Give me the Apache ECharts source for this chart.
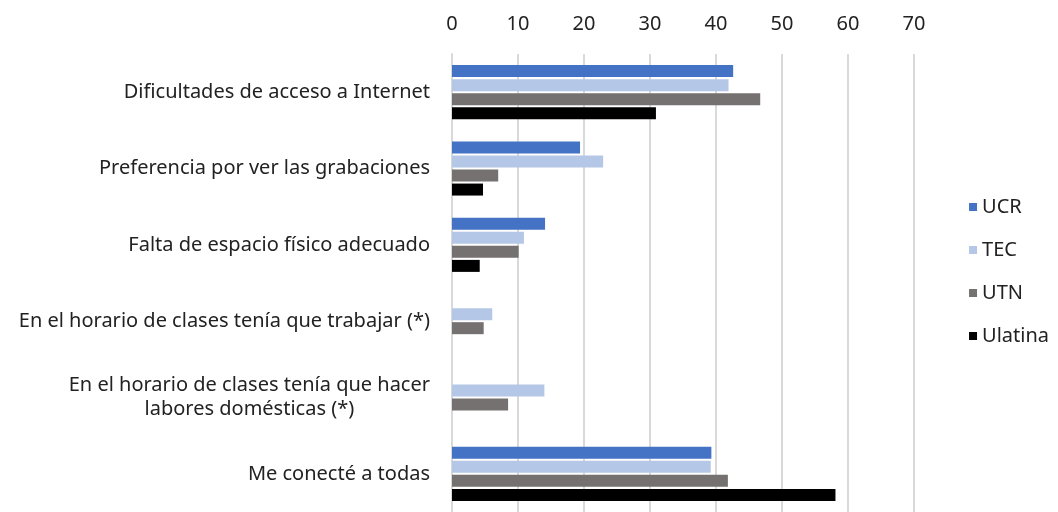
<!DOCTYPE html>
<html>
<head>
<meta charset="utf-8">
<script src="https://cdn.jsdelivr.net/npm/echarts@6/dist/echarts.min.js"></script>
<style>
html, body { margin: 0; padding: 0; background: #fff; }
#chart { width: 1058px; height: 512px; }
</style>
</head>
<body>
<div id="chart"></div>
<script>
// categories top to bottom
var categories = [
    'Dificultades de acceso a Internet',
    'Preferencia por ver las grabaciones',
    'Falta de espacio físico adecuado',
    'En el horario de clases tenía que trabajar (*)',
    'En el horario de clases tenía que hacer\nlabores domésticas (*)',
    'Me conecté a todas'
];
var ucr     = [42.6, 19.4, 14.1, null, null, 39.3];
var tec     = [41.9, 22.9, 10.9, 6.1, 14.0, 39.2];
var utn     = [46.7, 7.0, 10.1, 4.8, 8.5, 41.8];
var ulatina = [30.9, 4.7, 4.2, null, null, 58.1];
var seriesNames = ['UCR', 'TEC', 'UTN', 'Ulatina'];
var seriesColors = ['#4472C4', '#B4C7E7', '#767171', '#000000'];

var chart = echarts.init(document.getElementById('chart'));
var font = 'Noto Sans';

function makeSeries(name, data, color) {
    return {
        name: name,
        type: 'bar',
        data: data,
        barWidth: 12,
        barGap: '17%',
        itemStyle: { color: color },
        emphasis: { disabled: true }
    };
}

chart.setOption({
    animation: false,
    textStyle: { fontFamily: font },
    grid: { left: 452, right: 144, top: 54, bottom: -6 },
    legend: {
        orient: 'vertical',
        right: 4,
        top: 192,
        itemWidth: 8,
        itemHeight: 8,
        itemGap: 23,
        icon: 'rect',
        data: seriesNames,
        textStyle: { fontSize: 20, color: '#222', fontFamily: font }
    },
    xAxis: {
        type: 'value',
        position: 'top',
        min: 0,
        max: 70,
        interval: 10,
        axisLine: { show: false },
        axisTick: { show: false },
        axisLabel: { fontSize: 20, color: '#222', margin: 20 },
        splitLine: { lineStyle: { color: '#d9d9d9', width: 2 } }
    },
    yAxis: {
        type: 'category',
        inverse: true,
        data: categories,
        axisLine: { show: true, lineStyle: { color: '#d9d9d9', width: 2 } },
        axisTick: { show: false },
        axisLabel: {
            margin: 22,
            fontSize: 20,
            color: '#222',
            formatter: function (v) {
                return v.split('\n').map(function (s) { return '{c|' + s + '}'; }).join('\n');
            },
            rich: { c: { align: 'center', fontSize: 20, color: '#222', fontFamily: font, lineHeight: 24 } }
        }
    },
    series: [
        makeSeries(seriesNames[0], ucr, seriesColors[0]),
        makeSeries(seriesNames[1], tec, seriesColors[1]),
        makeSeries(seriesNames[2], utn, seriesColors[2]),
        makeSeries(seriesNames[3], ulatina, seriesColors[3])
    ]
});
</script>
</body>
</html>
